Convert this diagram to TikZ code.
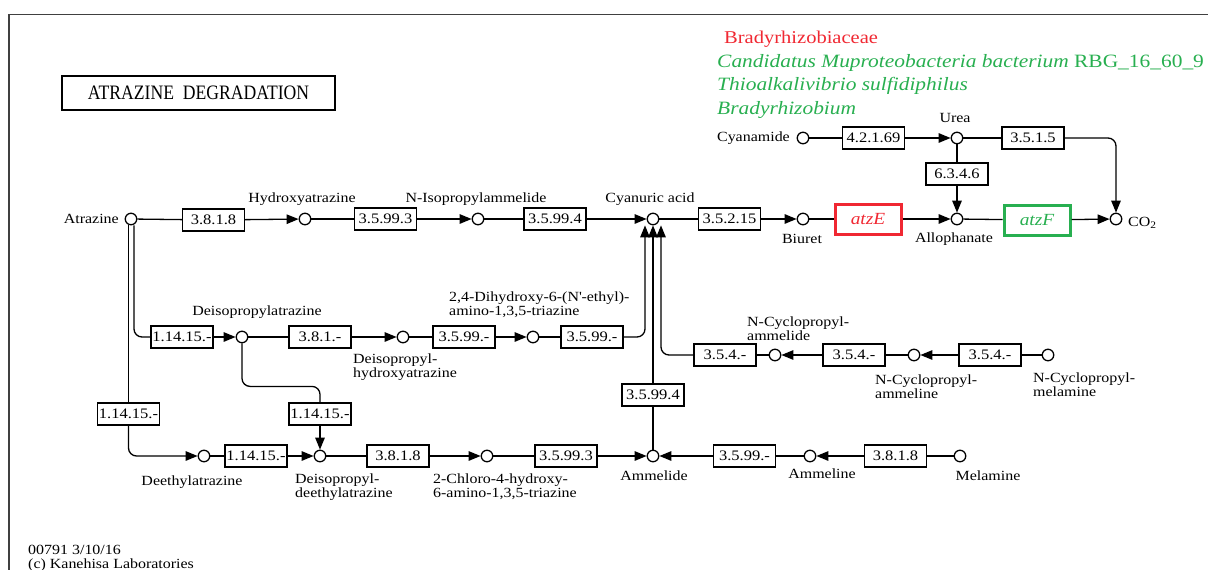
\documentclass[tikz,border=0pt]{standalone}
\usepackage{fontspec}
\setmainfont{Liberation Serif}
\newfontfamily\kegg[FakeStretch=1.14]{Liberation Serif}
\newfontfamily\ttl[FakeStretch=0.86]{Liberation Serif}
\usetikzlibrary{arrows.meta,calc}
\definecolor{keggred}{RGB}{240,40,50}
\definecolor{kegggreen}{RGB}{40,175,80}

\begin{document}
\begin{tikzpicture}[x=1pt,y=-1pt,
  every node/.style={font=\kegg\fontsize{14}{14}\selectfont},
  cpd/.style={circle,draw,line width=1.3pt,minimum size=11.5pt,inner sep=0pt,fill=white},
  ec/.style={rectangle,draw,line width=1.2pt,minimum width=62pt,minimum height=22pt,inner sep=0pt,fill=white,
    font=\kegg\fontsize{14.5}{14.5}\selectfont},
  gene/.style={rectangle,draw,line width=3pt,minimum width=66pt,minimum height=30pt,inner sep=0pt,
    font=\kegg\itshape\fontsize{17}{17}\selectfont},
  rx/.style={line width=1.3pt},
  arr/.style={rx,-{Triangle[length=12pt,width=9.5pt]}},
  lbl/.style={inner sep=0pt,align=left},
  legend/.style={inner sep=0pt,anchor=base west,font=\kegg\fontsize{18}{18}\selectfont},
  species/.style={legend,font=\kegg\itshape\fontsize{18.8}{18.8}\selectfont},
]
\useasboundingbox (0,0) rectangle (1208,570);

% outer frame
\draw[black!75,line width=1.2pt] (9,575) -- (9,14.5) -- (1215,14.5);

% title
\node[draw,line width=2pt,minimum width=273pt,minimum height=34pt,inner sep=0pt,
  font=\ttl\fontsize{20.5}{20.5}\selectfont] (title) at (198.5,93) {ATRAZINE\ \ DEGRADATION};

% organism legend
\node[legend,text=keggred] (lg1) at (724,43) {Bradyrhizobiaceae};
\node[species,text=kegggreen] (lg2) at (717,67) {Candidatus Muproteobacteria bacterium\/\upshape\ RBG\_16\_60\_9};
\node[species,text=kegggreen] (lg3) at (717,90) {Thioalkalivibrio sulfidiphilus};
\node[species,text=kegggreen] (lg4) at (717,114) {Bradyrhizobium};

% compounds
\node[cpd] (atr)  at (131,219) {};
\node[cpd] (hyd)  at (305,219) {};
\node[cpd] (nip)  at (478,219) {};
\node[cpd] (cya)  at (653,219) {};
\node[cpd] (biu)  at (803,219) {};
\node[cpd] (allo) at (957,219) {};
\node[cpd] (co2)  at (1116,219) {};
\node[cpd] (cyd)  at (803,138) {};
\node[cpd] (urea) at (957,138) {};
\node[cpd] (dpa)  at (242,337) {};
\node[cpd] (dph)  at (403,337) {};
\node[cpd] (dhe)  at (533,337) {};
\node[cpd] (cam)  at (775,355) {};
\node[cpd] (can)  at (914,355) {};
\node[cpd] (cme)  at (1048,355) {};
\node[cpd] (dea)  at (204,456) {};
\node[cpd] (dde)  at (320,456) {};
\node[cpd] (cha)  at (487,456) {};
\node[cpd] (amd)  at (653,456) {};
\node[cpd] (aml)  at (810,456) {};
\node[cpd] (mel)  at (960,456) {};

% compound names
\node[lbl,anchor=east] (tAtr) at (119,219) {Atrazine};
\node[lbl] (tHyd) at (302,199) {Hydroxyatrazine};
\node[lbl] (tNip) at (476,199) {N-Isopropylammelide};
\node[lbl] (tCya) at (650,199) {Cyanuric acid};
\node[lbl] (tBiu) at (802,239) {Biuret};
\node[lbl] (tAll) at (954,239) {Allophanate};
\node[lbl,anchor=west] (tCO2) at (1128,223) {CO\raisebox{-1.5pt}{\fontsize{10}{10}\selectfont 2}};
\node[lbl] (tUrea) at (955,118) {Urea};
\node[lbl,anchor=east] (tCyd) at (790,138) {Cyanamide};
\node[lbl] (tDpa) at (257,312) {Deisopropylatrazine};
\node[lbl,anchor=west] (tDph) at (353,367.5) {Deisopropyl-\\hydroxyatrazine};
\node[lbl,anchor=west] (tDhe) at (449,305) {2,4-Dihydroxy-6-(N\textquotesingle-ethyl)-\\amino-1,3,5-triazine};
\node[lbl,anchor=west] (tCam) at (747,329) {N-Cyclopropyl-\\ammelide};
\node[lbl,anchor=west] (tCan) at (875,387) {N-Cyclopropyl-\\ammeline};
\node[lbl,anchor=west] (tCme) at (1033,385) {N-Cyclopropyl-\\melamine};
\node[lbl] (tDea) at (192,482) {Deethylatrazine};
\node[lbl,anchor=west] (tDde) at (295,487) {Deisopropyl-\\deethylatrazine};
\node[lbl,anchor=west] (tCha) at (433,487) {2-Chloro-4-hydroxy-\\6-amino-1,3,5-triazine};
\node[lbl] (tAmd) at (654,476) {Ammelide};
\node[lbl] (tAml) at (822,474) {Ammeline};
\node[lbl] (tMel) at (988,476) {Melamine};

% enzymes
\node[ec] (e3818a)  at (213.5,220) {3.8.1.8};
\node[ec] (e35993a) at (385.5,219) {3.5.99.3};
\node[ec] (e35994a) at (555,219) {3.5.99.4};
\node[ec] (e35215)  at (729.5,219) {3.5.2.15};
\node[gene,draw=keggred,text=keggred] (atzE) at (868,219) {atzE};
\node[gene,draw=kegggreen,text=kegggreen] (atzF) at (1037,220) {atzF};
\node[ec] (e42169)  at (873.5,138) {4.2.1.69};
\node[ec] (e3515)   at (1033,138) {3.5.1.5};
\node[ec] (e6346)   at (957,174) {6.3.4.6};
\node[ec] (e11415a) at (182,337) {1.14.15.-};
\node[ec] (e381x)   at (320,337) {3.8.1.-};
\node[ec] (e3599a)  at (464,337) {3.5.99.-};
\node[ec] (e3599b)  at (592,337) {3.5.99.-};
\node[ec] (e354a)   at (725,355) {3.5.4.-};
\node[ec] (e354b)   at (854,355) {3.5.4.-};
\node[ec] (e354c)   at (990,355) {3.5.4.-};
\node[ec] (e35994b) at (653,395) {3.5.99.4};
\node[ec] (e11415b) at (128.5,414) {1.14.15.-};
\node[ec] (e11415c) at (320,414) {1.14.15.-};
\node[ec] (e11415d) at (256,456) {1.14.15.-};
\node[ec] (e3818b)  at (398,456) {3.8.1.8};
\node[ec] (e35993b) at (566,456) {3.5.99.3};
\node[ec] (e3599c)  at (744.5,456) {3.5.99.-};
\node[ec] (e3818c)  at (895.5,456) {3.8.1.8};

% main route: atrazine to cyanuric acid
\draw[rx]  (atr) -- (e3818a);
\draw[arr] (e3818a) -- (hyd);
\draw[rx]  (hyd) -- (e35993a);
\draw[arr] (e35993a) -- (nip);
\draw[rx]  (nip) -- (e35994a);
\draw[arr] (e35994a) -- (cya);

% cyanuric acid to CO2
\draw[rx]  (cya) -- (e35215);
\draw[arr] (e35215) -- (biu);
\draw[rx]  (biu) -- (atzE);
\draw[arr] (atzE) -- (allo);
\draw[rx]  (allo) -- (atzF);
\draw[arr] (atzF) -- (co2);

% cyanamide and urea
\draw[rx]  (cyd) -- (e42169);
\draw[arr] (e42169) -- (urea);
\draw[rx]  (urea) -- (e6346);
\draw[arr] (e6346) -- (allo);
\draw[rx]  (urea) -- (e3515);
\draw[arr,rounded corners=8pt] (e3515.east) -| (co2);

% dealkylation branches from atrazine
\draw[rx,rounded corners=8pt] ($(atr.south)+(3,0)$) |- (e11415a.west);
\draw[rx] ($(atr.south)+(-2.5,0)$) -- (e11415b.north);
\draw[arr,rounded corners=8pt] (e11415b.south) |- (dea);

% deisopropylatrazine row
\draw[arr] (e11415a) -- (dpa);
\draw[rx]  (dpa) -- (e381x);
\draw[arr] (e381x) -- (dph);
\draw[rx]  (dph) -- (e3599a);
\draw[arr] (e3599a) -- (dhe);
\draw[rx]  (dhe) -- (e3599b);
\draw[arr,rounded corners=8pt] (e3599b.east) -| ($(cya.south)+(-8,0)$);
\draw[rx,rounded corners=8pt] (dpa.south) |- ($(e11415c.north)+(0,-16)$) -- (e11415c.north);
\draw[arr] (e11415c) -- (dde);

% deethylatrazine row
\draw[rx]  (dea) -- (e11415d);
\draw[arr] (e11415d) -- (dde);
\draw[rx]  (dde) -- (e3818b);
\draw[arr] (e3818b) -- (cha);
\draw[rx]  (cha) -- (e35993b);
\draw[arr] (e35993b) -- (amd);

% melamine route
\draw[rx]  (mel) -- (e3818c);
\draw[arr] (e3818c) -- (aml);
\draw[rx]  (aml) -- (e3599c);
\draw[arr] (e3599c) -- (amd);
\draw[rx]  (amd) -- (e35994b);
\draw[arr] (e35994b) -- (cya);

% cyclopropyl route
\draw[rx]  (cme) -- (e354c);
\draw[arr] (e354c) -- (can);
\draw[rx]  (can) -- (e354b);
\draw[arr] (e354b) -- (cam);
\draw[rx]  (cam) -- (e354a);
\draw[arr,rounded corners=8pt] (e354a.west) -| ($(cya.south)+(8,0)$);

% footer
\node[lbl,anchor=west] (ft1) at (28,550) {00791 3/10/16};
\node[lbl,anchor=west] (ft2) at (28,565) {(c) Kanehisa Laboratories};
\end{tikzpicture}
\end{document}
